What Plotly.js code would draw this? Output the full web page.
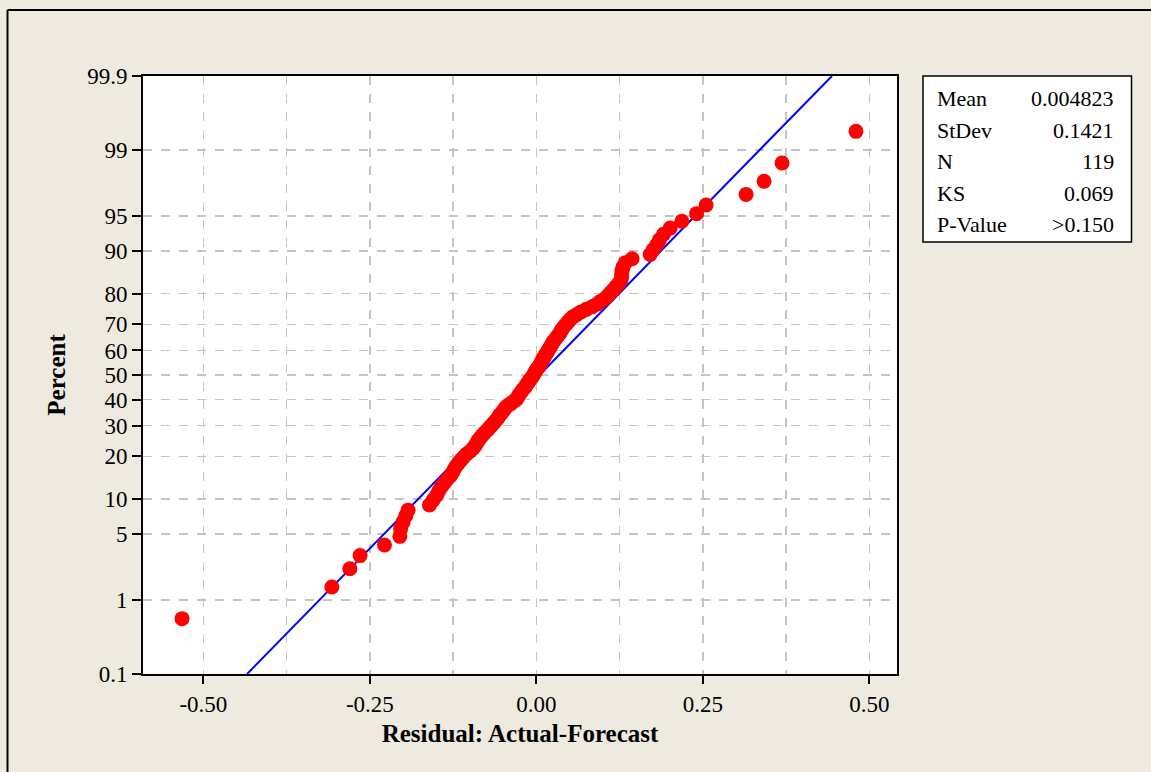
<!DOCTYPE html>
<html>
<head>
<meta charset="utf-8">
<script src="https://cdn.plot.ly/plotly-3.0.1.min.js"></script>
<style>
  html, body { margin: 0; padding: 0; background: #eeeae0; }
  #chart { width: 1151px; height: 772px; }
</style>
</head>
<body>
<div id="chart"></div>
<script>
// ---- Data (sorted residuals and their plotted percent) ----
const residuals = [
  -0.532, -0.307, -0.280, -0.2646, -0.228, -0.2049, -0.2037, -0.200, -0.196, -0.1925,
  -0.1605, -0.155, -0.1497, -0.1467, -0.143, -0.1384, -0.134, -0.1294, -0.1257, -0.1234,
  -0.1204, -0.1167, -0.113, -0.109, -0.1047, -0.0994, -0.095, -0.092, -0.0896, -0.0874,
  -0.0844, -0.0814, -0.078, -0.0746, -0.071, -0.068, -0.065, -0.062, -0.0589, -0.0566,
  -0.0544, -0.0514, -0.049, -0.0468, -0.0438, -0.039, -0.0348, -0.0303, -0.028, -0.0266,
  -0.0243, -0.022, -0.0198, -0.0168, -0.0153, -0.013, -0.011, -0.0086, -0.0063, -0.0044,
  -0.0026, -0.001, 0.0012, 0.0035, 0.0057, 0.0072, 0.0087, 0.0102, 0.0125, 0.014,
  0.0162, 0.0177, 0.020, 0.0215, 0.0237, 0.025, 0.028, 0.0305, 0.0327, 0.0357,
  0.037, 0.0395, 0.042, 0.045, 0.048, 0.051, 0.055, 0.061, 0.067, 0.075,
  0.084, 0.091, 0.096, 0.103, 0.107, 0.111, 0.1153, 0.119, 0.123, 0.127,
  0.128, 0.128, 0.1288, 0.1303, 0.1336, 0.1438, 0.171, 0.1754, 0.1806, 0.185,
  0.191, 0.201, 0.2185, 0.2407, 0.255, 0.315, 0.342, 0.369, 0.480
];
const percents = [
  0.59, 1.42, 2.26, 3.10, 3.94, 4.77, 5.61, 6.45, 7.29, 8.12,
  8.96, 9.80, 10.64, 11.47, 12.31, 13.15, 13.99, 14.82, 15.66, 16.50,
  17.34, 18.17, 19.01, 19.85, 20.69, 21.52, 22.36, 23.20, 24.04, 24.87,
  25.71, 26.55, 27.39, 28.22, 29.06, 29.90, 30.74, 31.57, 32.41, 33.25,
  34.09, 34.92, 35.76, 36.60, 37.44, 38.27, 39.11, 39.95, 40.79, 41.62,
  42.46, 43.30, 44.14, 44.97, 45.81, 46.65, 47.49, 48.32, 49.16, 50.00,
  50.84, 51.68, 52.51, 53.35, 54.19, 55.03, 55.86, 56.70, 57.54, 58.38,
  59.21, 60.05, 60.89, 61.73, 62.56, 63.40, 64.24, 65.08, 65.91, 66.75,
  67.59, 68.43, 69.26, 70.10, 70.94, 71.78, 72.61, 73.45, 74.29, 75.13,
  75.96, 76.80, 77.64, 78.48, 79.31, 80.15, 80.99, 81.83, 82.66, 83.50,
  84.34, 85.18, 86.01, 86.85, 87.69, 88.53, 89.36, 90.20, 91.04, 91.88,
  92.71, 93.55, 94.39, 95.23, 96.06, 96.90, 97.74, 98.58, 99.41
];
const percentTicks = [0.1, 1, 5, 10, 20, 30, 40, 50, 60, 70, 80, 90, 95, 99, 99.9];
const percentTickLabels = ["0.1", "1", "5", "10", "20", "30", "40", "50", "60", "70", "80", "90", "95", "99", "99.9"];
const xTickVals = [-0.5, -0.25, 0, 0.25, 0.5];
const xTickLabels = ["-0.50", "-0.25", "0.00", "0.25", "0.50"];
const statLabels = ["Mean", "StDev", "N", "KS", "P-Value"];
const statValues = ["0.004823", "0.1421", "119", "0.069", ">0.150"];
const fitMean = 0.004823;
const fitStDev = 0.1421;
const fitPercents = [0.1, 99.9];

// ---- Normal probability scale (inverse normal CDF, Acklam) ----
function probit(p) {
  const a = [-3.969683028665376e+01, 2.209460984245205e+02, -2.759285104469687e+02, 1.383577518672690e+02, -3.066479806614716e+01, 2.506628277459239e+00];
  const b = [-5.447609879822406e+01, 1.615858368580409e+02, -1.556989798598866e+02, 6.680131188771972e+01, -1.328068155288572e+01];
  const c = [-7.784894002430293e-03, -3.223964580411365e-01, -2.400758277161838e+00, -2.549732539343734e+00, 4.374664141464968e+00, 2.938163982698783e+00];
  const d = [7.784695709041462e-03, 3.224671290700398e-01, 2.445134137142996e+00, 3.754408661907416e+00];
  const pl = 0.02425, ph = 1 - pl;
  let q, r;
  if (p < pl) {
    q = Math.sqrt(-2 * Math.log(p));
    return (((((c[0]*q+c[1])*q+c[2])*q+c[3])*q+c[4])*q+c[5]) / ((((d[0]*q+d[1])*q+d[2])*q+d[3])*q+1);
  } else if (p <= ph) {
    q = p - 0.5; r = q * q;
    return (((((a[0]*r+a[1])*r+a[2])*r+a[3])*r+a[4])*r+a[5])*q / (((((b[0]*r+b[1])*r+b[2])*r+b[3])*r+b[4])*r+1);
  } else {
    q = Math.sqrt(-2 * Math.log(1 - p));
    return -(((((c[0]*q+c[1])*q+c[2])*q+c[3])*q+c[4])*q+c[5]) / ((((d[0]*q+d[1])*q+d[2])*q+d[3])*q+1);
  }
}
const toZ = pc => probit(pc / 100);

// ---- Layout geometry (pixels) ----
const W = 1151, H = 772;
const M = { l: 143, r: 254, t: 76, b: 98 };
const PW = W - M.l - M.r, PH = H - M.t - M.b;
const px = x => (x - M.l) / PW;          // pixel -> paper x
const py = y => (H - M.b - y) / PH;      // pixel -> paper y

const FONT = '"Liberation Serif", "Times New Roman", serif';
const gridCol = '#c4c4c4';

const pointsTrace = {
  type: 'scatter', mode: 'markers',
  x: residuals, y: percents.map(toZ),
  text: percents.map(p => p.toFixed(2) + '%'),
  hovertemplate: 'Residual: %{x}<br>Percent: %{text}<extra></extra>',
  marker: { color: '#ff0000', size: 15, line: { width: 0 } },
  showlegend: false, cliponaxis: false
};
const fitTrace = {
  type: 'scatter', mode: 'lines',
  x: fitPercents.map(p => fitMean + fitStDev * toZ(p)),
  y: fitPercents.map(toZ),
  line: { color: '#0000ff', width: 2 },
  hoverinfo: 'skip', showlegend: false
};

const shapes = [
  // outer frame (top and left edges)
  { type: 'line', xref: 'paper', yref: 'paper', x0: px(7.5), x1: px(1151), y0: py(10), y1: py(10), line: { color: '#000', width: 2 } },
  { type: 'line', xref: 'paper', yref: 'paper', x0: px(7.5), x1: px(7.5), y0: py(10), y1: py(772), line: { color: '#000', width: 2 } },
  // stats box
  { type: 'rect', xref: 'paper', yref: 'paper', x0: px(923), x1: px(1131.5), y0: py(76), y1: py(242), fillcolor: '#ffffff', line: { color: '#000', width: 1.5 } }
];
const rowY = [98.5, 130, 161.5, 193, 224.5];
const annotations = [];
statLabels.forEach((s, i) => {
  annotations.push({ xref: 'paper', yref: 'paper', x: px(935), y: py(rowY[i]), xanchor: 'left', yanchor: 'middle', text: s, showarrow: false, font: { family: FONT, size: 22, color: '#000' } });
  annotations.push({ xref: 'paper', yref: 'paper', x: px(1116), y: py(rowY[i]), xanchor: 'right', yanchor: 'middle', text: statValues[i], showarrow: false, font: { family: FONT, size: 22, color: '#000' } });
});

const layout = {
  width: W, height: H,
  margin: M,
  paper_bgcolor: '#eeeae0',
  plot_bgcolor: '#ffffff',
  font: { family: FONT, size: 22, color: '#000' },
  xaxis: {
    range: [-0.5906, 0.5416],
    tickvals: xTickVals, ticktext: xTickLabels,
    ticks: 'outside', ticklen: 8, tickwidth: 2, tickcolor: '#000',
    showline: true, linecolor: '#000', linewidth: 2, mirror: true,
    showgrid: true, gridcolor: gridCol, gridwidth: 1.5, griddash: 'dash',
    minor: { dtick: 0.125, tick0: 0, showgrid: true, gridcolor: gridCol, gridwidth: 1.5, griddash: 'dash', ticks: '' },
    zeroline: false,
    tickfont: { family: FONT, size: 23 },
    title: { text: '<b>Residual: Actual-Forecast</b>', font: { family: FONT, size: 25 }, standoff: 9 }
  },
  yaxis: {
    range: [toZ(0.1), toZ(99.9)],
    tickvals: percentTicks.map(toZ), ticktext: percentTickLabels,
    ticks: 'outside', ticklen: 9, tickwidth: 2, tickcolor: '#000',
    showline: true, linecolor: '#000', linewidth: 2, mirror: true,
    showgrid: true, gridcolor: gridCol, gridwidth: 1.5, griddash: 'dash',
    zeroline: false,
    tickfont: { family: FONT, size: 23 },
    title: { text: '<b>Percent</b>', font: { family: FONT, size: 25 }, standoff: 14 }
  },
  shapes: shapes,
  annotations: annotations,
  showlegend: false
};

Plotly.newPlot('chart', [fitTrace, pointsTrace], layout, { displayModeBar: false, staticPlot: true });
</script>
</body>
</html>
